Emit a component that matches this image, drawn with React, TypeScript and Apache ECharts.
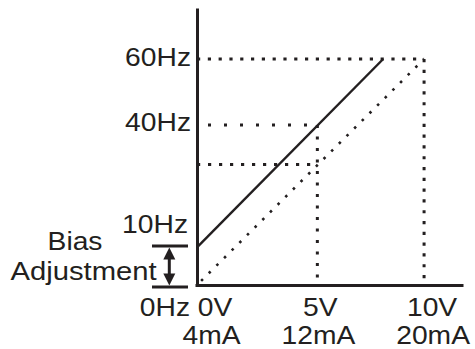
import React, { useEffect, useRef } from "react";
import * as echarts from "echarts";

// ---- data ----
const hzTickLabels = ["60Hz", "40Hz", "10Hz", "0Hz"];
const hzTickValues = [60, 42.5, 10, 0];
const voltLabels = ["0V", "5V", "10V"];
const currentLabels = ["4mA", "12mA", "20mA"];
const inputTickValues = [0, 5.3, 10];
const biasLine = [
  [0, 10],
  [8.2, 60],
];
const noBiasLine = [
  [0, 0],
  [10, 60],
];
const midOutputs = [42.5, 32]; // output of each line at the mid input
const maxOutput = 60;
const biasRange = [0, 10];
const biasText = ["Bias", "Adjustment"];

const INK = "#231f20";
const FONT = "'Liberation Sans', Arial, sans-serif";

export default function App() {
  const ref = useRef<HTMLDivElement>(null);

  useEffect(() => {
    if (!ref.current) return;
    const chart = echarts.init(ref.current, undefined, { renderer: "svg" });

    const xMid = inputTickValues[1];
    const xMax = inputTickValues[2];

    const guide = (data: number[][], dash: number[], offset: number) => ({
      type: "line",
      data,
      symbol: "none",
      silent: true,
      lineStyle: { color: INK, width: 3, type: dash, dashOffset: offset, cap: "butt" },
    });

    chart.setOption({
      animation: false,
      backgroundColor: "#ffffff",
      grid: { left: 197, right: 13, top: 10, bottom: 64 },
      xAxis: {
        type: "value",
        min: 0,
        max: 11.67,
        axisLine: { show: true, lineStyle: { color: INK, width: 3, cap: "square" } },
        axisTick: { show: false },
        axisLabel: { show: false },
        splitLine: { show: false },
      },
      yAxis: {
        type: "value",
        min: 0,
        max: 73,
        axisLine: { show: true, lineStyle: { color: INK, width: 3, cap: "square" } },
        axisTick: { show: false },
        axisLabel: { show: false },
        splitLine: { show: false },
      },
      series: [
        guide([[0, maxOutput], [xMax, maxOutput]], [3.2, 7.6], 0.3),
        guide([[0, midOutputs[0]], [xMid, midOutputs[0]]], [3, 13], 4.7),
        guide([[0, midOutputs[1]], [xMid, midOutputs[1]]], [3.2, 7.8], 0.2),
        guide([[xMid, midOutputs[0]], [xMid, 0]], [3, 8.5], 0),
        guide([[xMax, maxOutput], [xMax, 0]], [3.2, 7.6], 0),
        {
          type: "line",
          data: noBiasLine,
          symbol: "none",
          silent: true,
          lineStyle: { color: INK, width: 2.6, type: [2.6, 8.2], dashOffset: 5.1 },
        },
        {
          type: "line",
          data: biasLine,
          symbol: "none",
          silent: true,
          lineStyle: { color: INK, width: 2.4, type: "solid" },
        },
        {
          type: "custom",
          clip: false,
          silent: true,
          data: [[0, biasRange[1], biasRange[0]]],
          encode: { x: 0, y: 1 },
          renderItem: (params: any, api: any) => {
            const top = api.coord([api.value(0), api.value(1)]);
            const bot = api.coord([api.value(0), api.value(2)]);
            const x0 = top[0];
            const yT = top[1] - 1.3;
            const yB = bot[1] + 2;
            const ax = x0 - 27.7;
            const st = { fill: INK };
            return {
              type: "group",
              children: [
                { type: "rect", shape: { x: x0 - 45, y: yT - 1.5, width: 36, height: 3 }, style: st },
                { type: "rect", shape: { x: x0 - 45, y: yB - 1.5, width: 36, height: 3 }, style: st },
                { type: "rect", shape: { x: ax - 1.5, y: yT + 10, width: 3, height: yB - yT - 20 }, style: st },
                {
                  type: "polygon",
                  shape: { points: [[ax, yT + 1.5], [ax - 6, yT + 13.5], [ax + 6, yT + 13.5]] },
                  style: st,
                },
                {
                  type: "polygon",
                  shape: { points: [[ax, yB - 1.5], [ax - 6, yB - 13.5], [ax + 6, yB - 13.5]] },
                  style: st,
                },
              ],
            };
          },
        },
      ],
    });

    // texts placed through the chart's own scales
    const px = (x: number, y: number) => chart.convertToPixel({ gridIndex: 0 }, [x, y]) as number[];
    const fs = 25;
    const sx = 1.13;
    const txt = (text: string, x: number, y: number, align: string) => ({
      type: "text",
      x,
      y,
      scaleX: sx,
      silent: true,
      style: {
        text,
        fill: INK,
        font: `${fs}px ${FONT}`,
        align,
        verticalAlign: "middle",
      },
    });

    const yDy = [-1, -2, -23, 23];
    const yDx = [-6, -6, -9, -7];
    const vDx = [18, 3, 8];
    const mDx = [14.5, 1, 9];
    const graphic: any[] = [];
    hzTickLabels.forEach((t, i) => {
      const p = px(0, hzTickValues[i]);
      graphic.push(txt(t, p[0] + yDx[i], p[1] + yDy[i], "right"));
    });
    voltLabels.forEach((t, i) => {
      const p = px(inputTickValues[i], 0);
      graphic.push(txt(t, p[0] + vDx[i], p[1] + 22.5, "center"));
      graphic.push(txt(currentLabels[i], p[0] + mDx[i], p[1] + 50.5, "center"));
    });
    const b = px(0, biasRange[1]);
    graphic.push(txt(biasText[0], b[0] - 122, b[1] - 6, "center"));
    graphic.push({ ...txt(biasText[1], b[0] - 113.5, b[1] + 24, "center"), scaleX: 1.17 });

    chart.setOption({ graphic });

    return () => chart.dispose();
  }, []);

  return (
    <div
      ref={ref}
      style={{ position: "fixed", left: 0, top: 0, width: 475, height: 349, background: "#fff" }}
    />
  );
}
